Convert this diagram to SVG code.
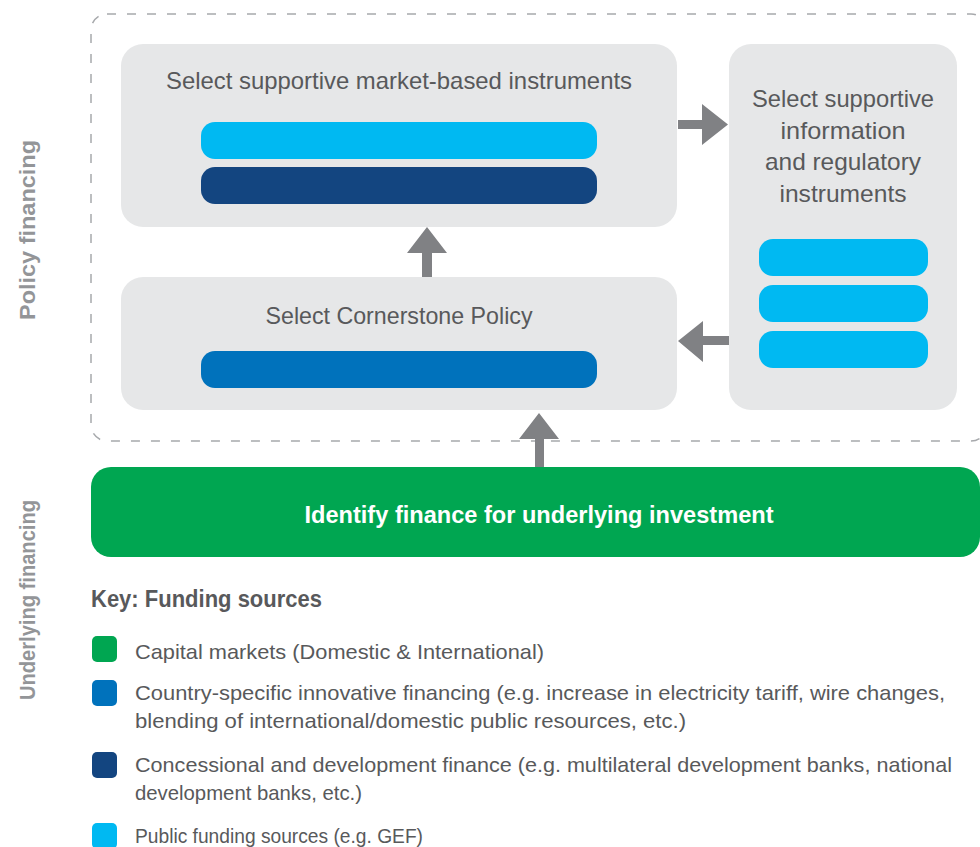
<svg xmlns="http://www.w3.org/2000/svg" width="980" height="847" viewBox="0 0 980 847">
<style>
.box{fill:#e6e7e8}
.cyan{fill:#00b9f2}
.navy{fill:#134580}
.blue{fill:#0072bc}
.green{fill:#00a651}
.arrow{fill:#808184}
.t{font-family:"Liberation Sans",Arial,sans-serif;fill:#58595b}
.title{font-size:24px;text-anchor:middle}
.leg{font-size:21px}
.side{font-size:22px;font-weight:bold;fill:#939598;text-anchor:middle}
</style>
<rect width="980" height="847" fill="#ffffff"/>
<rect x="91" y="14" width="896" height="427" rx="16" fill="none" stroke="#a7a9ac" stroke-width="1.5" stroke-dasharray="9 11"/>
<text class="t side" transform="translate(35,230) rotate(-90)" textLength="180" lengthAdjust="spacingAndGlyphs">Policy financing</text>
<text class="t side" transform="translate(35,600) rotate(-90)" textLength="200" lengthAdjust="spacingAndGlyphs">Underlying financing</text>
<g id="market-based">
<rect class="box" x="121" y="44" width="556" height="183" rx="22"/>
<text class="t title" x="399" y="89" textLength="466" lengthAdjust="spacingAndGlyphs">Select supportive market-based instruments</text>
<rect class="cyan" x="201" y="122" width="396" height="37" rx="14"/>
<rect class="navy" x="201" y="167" width="396" height="37" rx="14"/>
</g>
<g id="info-regulatory">
<rect class="box" x="729" y="44" width="228" height="366" rx="22"/>
<text class="t title" x="843" y="107" textLength="182" lengthAdjust="spacingAndGlyphs">Select supportive</text>
<text class="t title" x="843" y="139" textLength="125" lengthAdjust="spacingAndGlyphs">information</text>
<text class="t title" x="843" y="170" textLength="156" lengthAdjust="spacingAndGlyphs">and regulatory</text>
<text class="t title" x="843" y="202" textLength="127" lengthAdjust="spacingAndGlyphs">instruments</text>
<rect class="cyan" x="759" y="239" width="169" height="37" rx="14"/>
<rect class="cyan" x="759" y="285" width="169" height="37" rx="14"/>
<rect class="cyan" x="759" y="331" width="169" height="37" rx="14"/>
</g>
<g id="cornerstone">
<rect class="box" x="121" y="277" width="556" height="133" rx="22"/>
<text class="t title" x="399" y="324" textLength="267" lengthAdjust="spacingAndGlyphs">Select Cornerstone Policy</text>
<rect class="blue" x="201" y="351" width="396" height="37" rx="14"/>
</g>
<g id="underlying">
<rect class="green" x="91" y="467" width="889" height="90" rx="20"/>
<text x="539" y="523" font-family="Liberation Sans,Arial,sans-serif" font-size="24" font-weight="bold" fill="#ffffff" text-anchor="middle" textLength="469" lengthAdjust="spacingAndGlyphs">Identify finance for underlying investment</text>
</g>
<g id="connectors">
<polygon class="arrow" points="678,120 702,120 702,104 728,124.5 702,145 702,129 678,129"/>
<polygon class="arrow" points="729,336 703,336 703,321 678,341 703,362 703,345 729,345"/>
<polygon class="arrow" points="422,277 422,253 407,253 427,227 447,253 432,253 432,277"/>
<polygon class="arrow" points="535,467 535,439 519,439 539,413 559,439 544,439 544,467"/>
</g>
<g id="key">
<text class="t" x="91" y="607" font-size="24" font-weight="bold" textLength="231" lengthAdjust="spacingAndGlyphs">Key: Funding sources</text>
<rect class="green" x="92" y="636" width="25" height="26" rx="5"/>
<text class="t leg" x="135" y="659" textLength="409" lengthAdjust="spacingAndGlyphs">Capital markets (Domestic &amp; International)</text>
<rect class="blue" x="92" y="680" width="25" height="26" rx="5"/>
<text class="t leg" x="135" y="700" textLength="810" lengthAdjust="spacingAndGlyphs">Country-specific innovative financing (e.g. increase in electricity tariff, wire changes,</text>
<text class="t leg" x="135" y="728" textLength="551" lengthAdjust="spacingAndGlyphs">blending of international/domestic public resources, etc.)</text>
<rect class="navy" x="92" y="752" width="25" height="26" rx="5"/>
<text class="t leg" x="135" y="772" textLength="817" lengthAdjust="spacingAndGlyphs">Concessional and development finance (e.g. multilateral development banks, national</text>
<text class="t leg" x="135" y="800" textLength="227" lengthAdjust="spacingAndGlyphs">development banks, etc.)</text>
<rect class="cyan" x="92" y="823" width="25" height="26" rx="5"/>
<text class="t leg" x="135" y="843" textLength="288" lengthAdjust="spacingAndGlyphs">Public funding sources (e.g. GEF)</text>
</g>
</svg>
